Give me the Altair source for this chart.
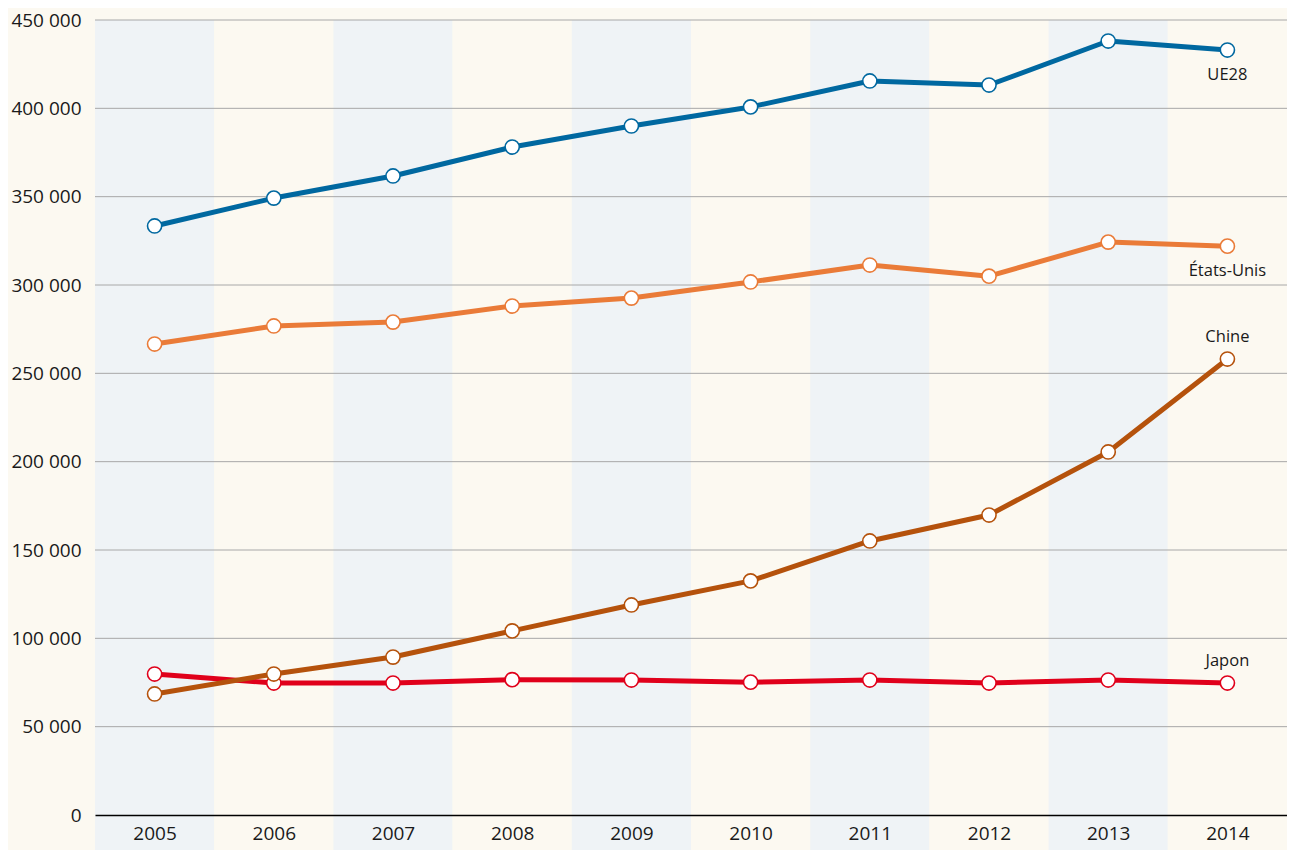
import altair as alt
import pandas as pd

years = [2005, 2006, 2007, 2008, 2009, 2010, 2011, 2012, 2013, 2014]
ue28 = [333400, 349200, 361700, 378100, 390000, 400800, 415500, 413200, 438100, 433000]
etats_unis = [266600, 276800, 279000, 288100, 292600, 301700, 311300, 305000, 324300, 322000]
japon = [79800, 74700, 74700, 76600, 76400, 75200, 76400, 74700, 76400, 74700]
chine = [68500, 79800, 89400, 104200, 118900, 132500, 155100, 169800, 205500, 258100]
series_names = ["UE28", "États-Unis", "Japon", "Chine"]
series_colors = ["#0068a0", "#ea7b38", "#e0001b", "#b5520c"]
y_ticks = [0, 50000, 100000, 150000, 200000, 250000, 300000, 350000, 400000, 450000]
band_kinds = ["a", "b"] * 5

rows = []
for name, vals in zip(series_names, [ue28, etats_unis, japon, chine]):
    for yr, v in zip(years, vals):
        rows.append({"annee": yr, "valeur": v, "serie": name, "ordre": series_names.index(name)})
df = pd.DataFrame(rows)

bands = pd.DataFrame({"annee": years, "kind": band_kinds})
grid = pd.DataFrame({"v": y_ticks})

W, H = 1192, 795
FONT = "Open Sans"

xscale = alt.Scale(domain=[2004.5, 2014.5], nice=False, zero=False)
yscale = alt.Scale(domain=[0, 450000], nice=False)
cscale = alt.Scale(domain=series_names, range=series_colors)

band_layer = alt.Chart(bands).transform_calculate(
    x0="datum.annee - 0.5", x1="datum.annee + 0.5"
).mark_rect(strokeWidth=0).encode(
    x=alt.X("x0:Q", scale=xscale,
            axis=alt.Axis(values=years, format="d", title=None, ticks=False, grid=False,
                          domain=True, domainColor="#000000", domainWidth=1.5,
                          labelFont=FONT, labelFontSize=19, labelColor="#1a1a1a",
                          labelPadding=9, zindex=1)),
    x2="x1:Q",
    y=alt.value(0),
    y2=alt.value(H + 35),
    fill=alt.Fill("kind:N", scale=alt.Scale(domain=["a", "b"], range=["#eff3f6", "#fcf9f1"]), legend=None),
)

grid_layer = alt.Chart(grid).transform_filter("datum.v > 0").mark_rule(color="#a8a8a8", strokeWidth=1).encode(
    y=alt.Y("v:Q", scale=yscale,
            axis=alt.Axis(values=y_ticks, title=None, ticks=False, grid=False, domain=False,
                          labelFont=FONT, labelFontSize=19, labelColor="#1a1a1a", labelPadding=14,
                          labelExpr="replace(format(datum.value, ','), regexp(',', 'g'), ' ')")),
)

lines = alt.Chart(df).mark_line(strokeWidth=5, strokeJoin="round").encode(
    x=alt.X("annee:Q", scale=xscale),
    y=alt.Y("valeur:Q", scale=yscale),
    stroke=alt.Stroke("serie:N", scale=cscale, legend=None),
    detail="serie:N",
    order="annee:Q",
)

points = alt.Chart(df).mark_point(filled=False, fill="white", fillOpacity=1, opacity=1,
                                  size=200, strokeWidth=1.6, shape="circle").encode(
    x=alt.X("annee:Q", scale=xscale),
    y=alt.Y("valeur:Q", scale=yscale),
    stroke=alt.Stroke("serie:N", scale=cscale, legend=None),
    order="ordre:Q",
)

last = df[df["annee"] == years[-1]]
labels_below = alt.Chart(last).transform_filter(
    alt.FieldOneOfPredicate(field="serie", oneOf=["UE28", "États-Unis"])
).mark_text(font=FONT, fontSize=16.5, color="#1a1a1a", dy=25).encode(
    x=alt.X("annee:Q", scale=xscale), y=alt.Y("valeur:Q", scale=yscale), text="serie:N"
)
labels_above = alt.Chart(last).transform_filter(
    alt.FieldOneOfPredicate(field="serie", oneOf=["Chine", "Japon"])
).mark_text(font=FONT, fontSize=16.5, color="#1a1a1a", dy=-22).encode(
    x=alt.X("annee:Q", scale=xscale), y=alt.Y("valeur:Q", scale=yscale), text="serie:N"
)

chart = alt.layer(band_layer, grid_layer, lines, points, labels_below, labels_above).resolve_scale(
    fill="independent", stroke="shared"
).properties(
    width=W, height=H,
    autosize=alt.AutoSizeParams(type="none"),
    padding={"left": 87, "top": 12, "right": 0, "bottom": 35},
    background="#fcf9f1",
).configure_view(stroke=None)

chart.save("out.html", embed_options={"renderer": "svg", "actions": False})
